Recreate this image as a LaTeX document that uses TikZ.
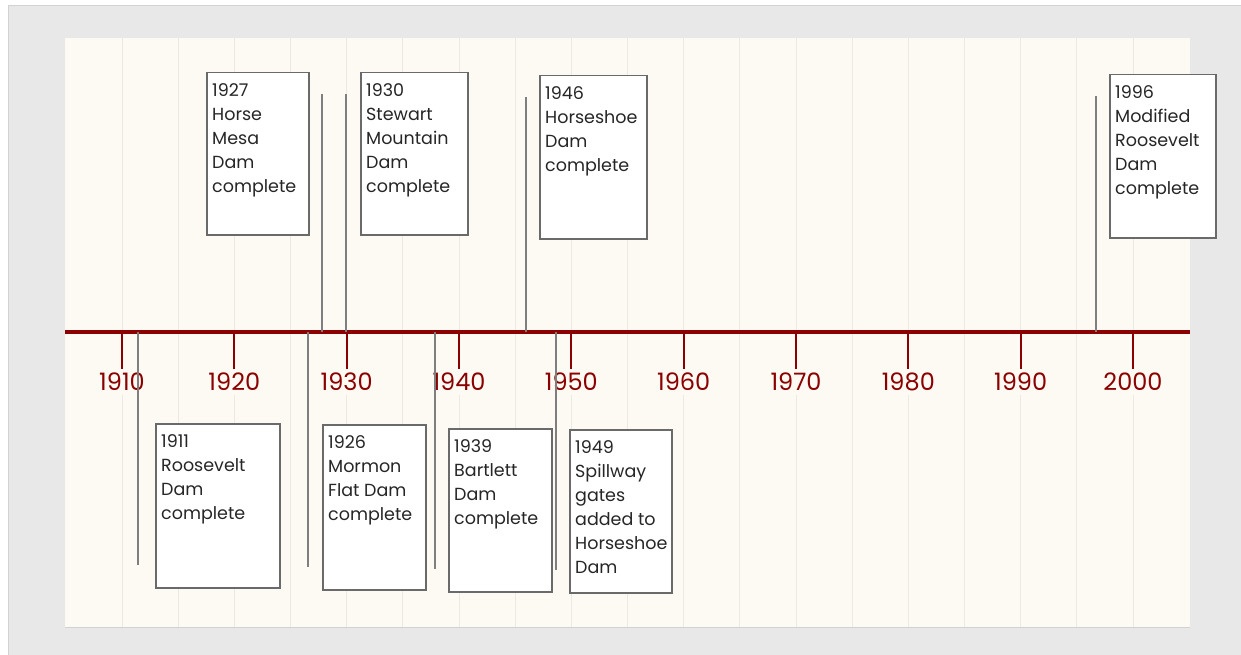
\documentclass[tikz,border=0pt]{standalone}
\usepackage{fontspec}
\setmainfont{Poppins}
\usepackage{tikz}
\usetikzlibrary{positioning}

\definecolor{outerbg}{HTML}{E8E8E8}
\definecolor{outerline}{HTML}{D2D2D2}
\definecolor{panelbg}{HTML}{FDFAF3}
\definecolor{gridcol}{HTML}{EDE9E2}
\definecolor{axisred}{HTML}{8B0000}
\definecolor{stemgray}{HTML}{7F7F7F}
\definecolor{boxgray}{HTML}{6A6A6A}
\definecolor{txtgray}{HTML}{262626}

\tikzstyle{gridline}=[draw=gridcol,line width=1pt]
\tikzstyle{axisline}=[draw=axisred,line width=4pt]
\tikzstyle{yeartick}=[draw=axisred,line width=2pt]
\tikzstyle{yearlabel}=[text=axisred,fill=panelbg,font=\fontsize{24}{24}\selectfont,inner xsep=2pt,inner ysep=4pt]
\tikzstyle{stem}=[draw=stemgray,line width=2pt]
\tikzstyle{evbox}=[draw=boxgray,line width=1.5pt,fill=white,anchor=north west,inner sep=0pt]
\tikzstyle{evtext}=[text=txtgray,align=left,anchor=north west,inner sep=0pt,font=\fontsize{17.5}{24}\selectfont]

% #1 name, #2 stem x, #3 stem end y, #4/#5 box corner, #6 width, #7 height, #8 text
\def\event#1#2#3#4#5#6#7#8{
  \coordinate (#1base) at (#2,332);
  \coordinate (#1end) at (#2,#3);
  \draw[stem] (#1base) -- (#1end);
  \node[evbox,minimum width=#6pt,minimum height=#7pt] (#1) at (#4,#5) {};
  \node[evtext] (#1text) at ([xshift=6pt,yshift=-11pt]#1.north west) {#8};
}

\begin{document}
\begin{tikzpicture}[x=1pt,y=-1pt]
  \useasboundingbox (0,0) rectangle (1241,655);
  % backgrounds
  \fill[outerbg] (8,6) rectangle (1241,655);
  \draw[outerline,line width=1pt] (8,655) -- (8,6) -- (1241,6);
  \fill[panelbg] (65,38) rectangle (1190,627);
  \draw[outerline,line width=1pt] (65,627) -- (1190,627);
  \foreach \i in {0,...,18}
    \draw[gridline] (122+56.17*\i,38) -- (122+56.17*\i,627);
  % axis
  \coordinate (axisL) at (65,332);
  \coordinate (axisR) at (1190,332);
  \draw[axisline] (axisL) -- (axisR);
  \foreach \yr [count=\k from 0] in {1910,1920,...,2000} {
    \coordinate (t\yr) at (122+112.33*\k,332);
    \node[yearlabel] (y\yr) at (122+112.33*\k,382) {\yr};
    \draw[yeartick] (t\yr) -- (y\yr.north);
  }
  % events above
  \event{e1927}{322}{94}{206}{72}{102}{162}{1927\\Horse\\Mesa\\Dam\\complete}
  \event{e1930}{346}{94}{360}{72}{107}{162}{1930\\Stewart\\Mountain\\Dam\\complete}
  \event{e1946}{526}{97}{539}{75}{107}{163}{1946\\Horseshoe\\Dam\\complete}
  \event{e1996}{1096}{96}{1109}{74}{106}{163}{1996\\Modified\\Roosevelt\\Dam\\complete}
  % events below
  \event{e1911}{138}{565}{155}{423}{124}{164}{1911\\Roosevelt\\Dam\\complete}
  \event{e1926}{308}{567}{322}{424}{103}{165}{1926\\Mormon\\Flat Dam\\complete}
  \event{e1939}{435}{569}{448}{428}{103}{163}{1939\\Bartlett\\Dam\\complete}
  \event{e1949}{556}{570}{569}{429}{102}{163}{1949\\Spillway\\gates\\added to\\Horseshoe\\Dam}
\end{tikzpicture}
\end{document}
